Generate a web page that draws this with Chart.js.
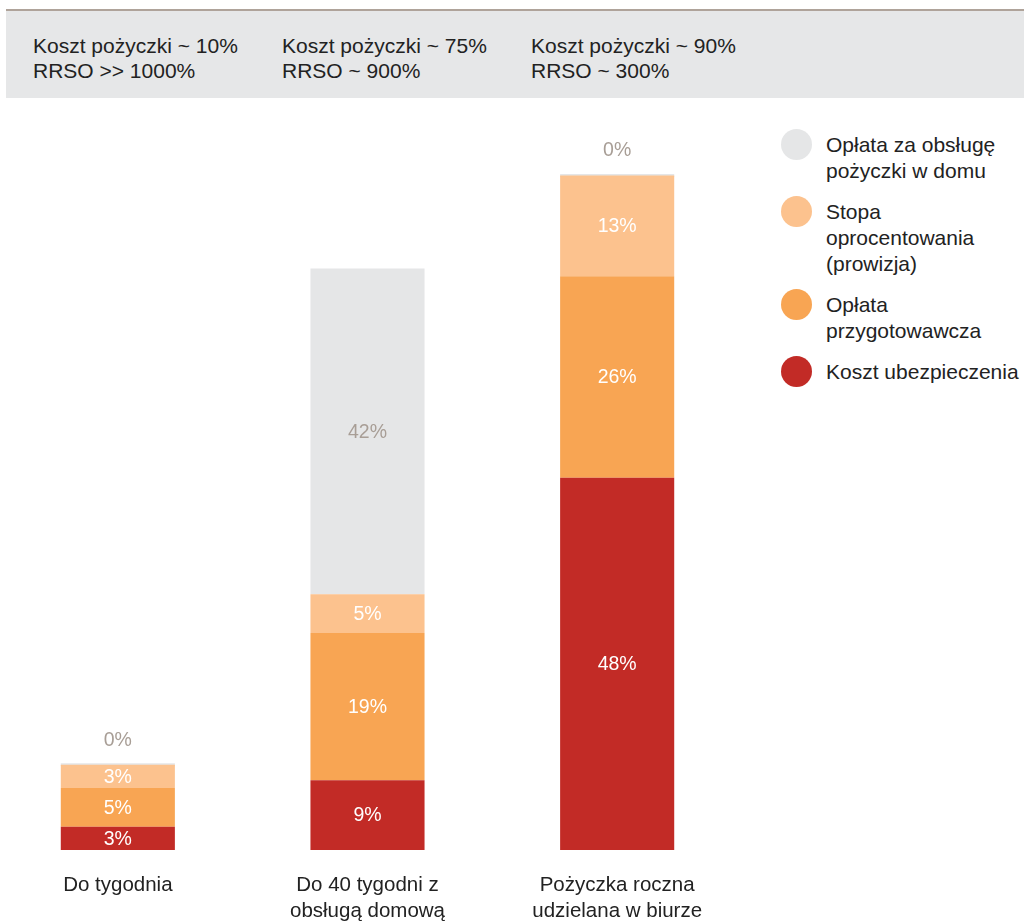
<!DOCTYPE html>
<html>
<head>
<meta charset="utf-8">
<script src="https://cdn.jsdelivr.net/npm/chart.js@4.4.1/dist/chart.umd.min.js"></script>
<style>
  html, body { margin: 0; padding: 0; background: #fff; overflow: hidden; }
  body { width: 1024px; height: 924px; position: relative; font-family: "Liberation Sans", Arial, sans-serif; color: #222; }
  #header { position: absolute; left: 6px; right: 0; top: 9px; height: 87px; border-top: 2px solid #afa39a; background: #e6e7e8; }
  .head-item { position: absolute; top: 22px; font-size: 21px; line-height: 25px; white-space: nowrap; }
  #chartBox { position: absolute; left: -7px; top: 100px; width: 749px; height: 846px; }
  #legend { position: absolute; left: 781px; top: 132px; }
  .leg-item { position: relative; padding-left: 45px; margin-bottom: 15px; font-size: 21px; line-height: 26px; white-space: nowrap; }
  .leg-dot { position: absolute; left: 0; top: -3px; width: 31px; height: 31px; border-radius: 50%; }
</style>
</head>
<body>
<div id="header"></div>
<div id="chartBox"><canvas id="chart1"></canvas></div>
<div id="legend"></div>
<script>
  // loan types and the headline cost / APR for each
  const categories = [['Do tygodnia'], ['Do 40 tygodni z', 'obsługą domową'], ['Pożyczka roczna', 'udzielana w biurze']];
  const headerLines = [
    ['Koszt pożyczki ~ 10%', 'RRSO >> 1000%'],
    ['Koszt pożyczki ~ 75%', 'RRSO ~ 900%'],
    ['Koszt pożyczki ~ 90%', 'RRSO ~ 300%']
  ];

  // cost components, bottom of the stack first (percent)
  const insurance = [3, 9, 48];
  const setupFee = [5, 19, 26];
  const interest = [3, 5, 13];
  const homeService = [0, 42, 0];

  const seriesNames = [
    ['Koszt ubezpieczenia'],
    ['Opłata', 'przygotowawcza'],
    ['Stopa', 'oprocentowania', '(prowizja)'],
    ['Opłata za obsługę', 'pożyczki w domu']
  ];
  const seriesColors = ['#c22b26', '#f8a553', '#fcc28e', '#e5e6e7'];
  const labelColors = ['#ffffff', '#ffffff', '#ffffff', '#a89e96'];

  // header columns
  const headerX = [27, 276, 525];
  const header = document.getElementById('header');
  headerLines.forEach((lines, i) => {
    const d = document.createElement('div');
    d.className = 'head-item';
    d.style.left = headerX[i] + 'px';
    d.innerHTML = lines.join('<br>');
    header.appendChild(d);
  });

  // percentage printed on each segment; empty segments get it above the bar
  const segmentLabels = {
    id: 'segmentLabels',
    afterDatasetsDraw(chart) {
      const ctx = chart.ctx;
      ctx.save();
      ctx.font = '19.5px "Liberation Sans", Arial, sans-serif';
      ctx.textAlign = 'center';
      ctx.textBaseline = 'middle';
      chart.data.datasets.forEach((ds, di) => {
        const meta = chart.getDatasetMeta(di);
        meta.data.forEach((bar, i) => {
          const v = ds.data[i];
          ctx.fillStyle = labelColors[di];
          if (v > 0) {
            ctx.fillText(v + '%', bar.x, (bar.y + bar.base) / 2 + 1);
          } else {
            ctx.fillText(v + '%', bar.x, bar.y - 23);
          }
        });
      });
      ctx.restore();
    }
  };

  const values = [insurance, setupFee, interest, homeService];
  const ctx1 = document.getElementById('chart1').getContext('2d');
  const chart1 = new Chart(ctx1, {
    type: 'bar',
    data: {
      labels: categories,
      datasets: values.map((v, i) => ({
        label: seriesNames[i].join(' '),
        data: v,
        backgroundColor: seriesColors[i],
        borderWidth: 0,
        minBarLength: i === 3 ? 3 : 0,
        categoryPercentage: 1,
        barPercentage: 0.457
      }))
    },
    options: {
      responsive: true,
      maintainAspectRatio: false,
      animation: false,
      layout: { padding: { top: 29, bottom: 0, left: 0, right: 0 } },
      plugins: { legend: { display: false }, tooltip: { enabled: false } },
      scales: {
        x: {
          stacked: true,
          grid: { display: false, drawTicks: false },
          border: { display: false },
          ticks: {
            padding: 22,
            color: '#222',
            font: { family: '"Liberation Sans", Arial, sans-serif', size: 20.5, lineHeight: '26px' }
          }
        },
        y: { stacked: true, display: false, min: 0, max: 93 }
      }
    },
    plugins: [segmentLabels]
  });

  // legend, top of the stack first
  const legend = document.getElementById('legend');
  for (let i = seriesNames.length - 1; i >= 0; i--) {
    const item = document.createElement('div');
    item.className = 'leg-item';
    item.innerHTML = '<span class="leg-dot" style="background:' + seriesColors[i] + '"></span>' + seriesNames[i].join('<br>');
    legend.appendChild(item);
  }
</script>
</body>
</html>
